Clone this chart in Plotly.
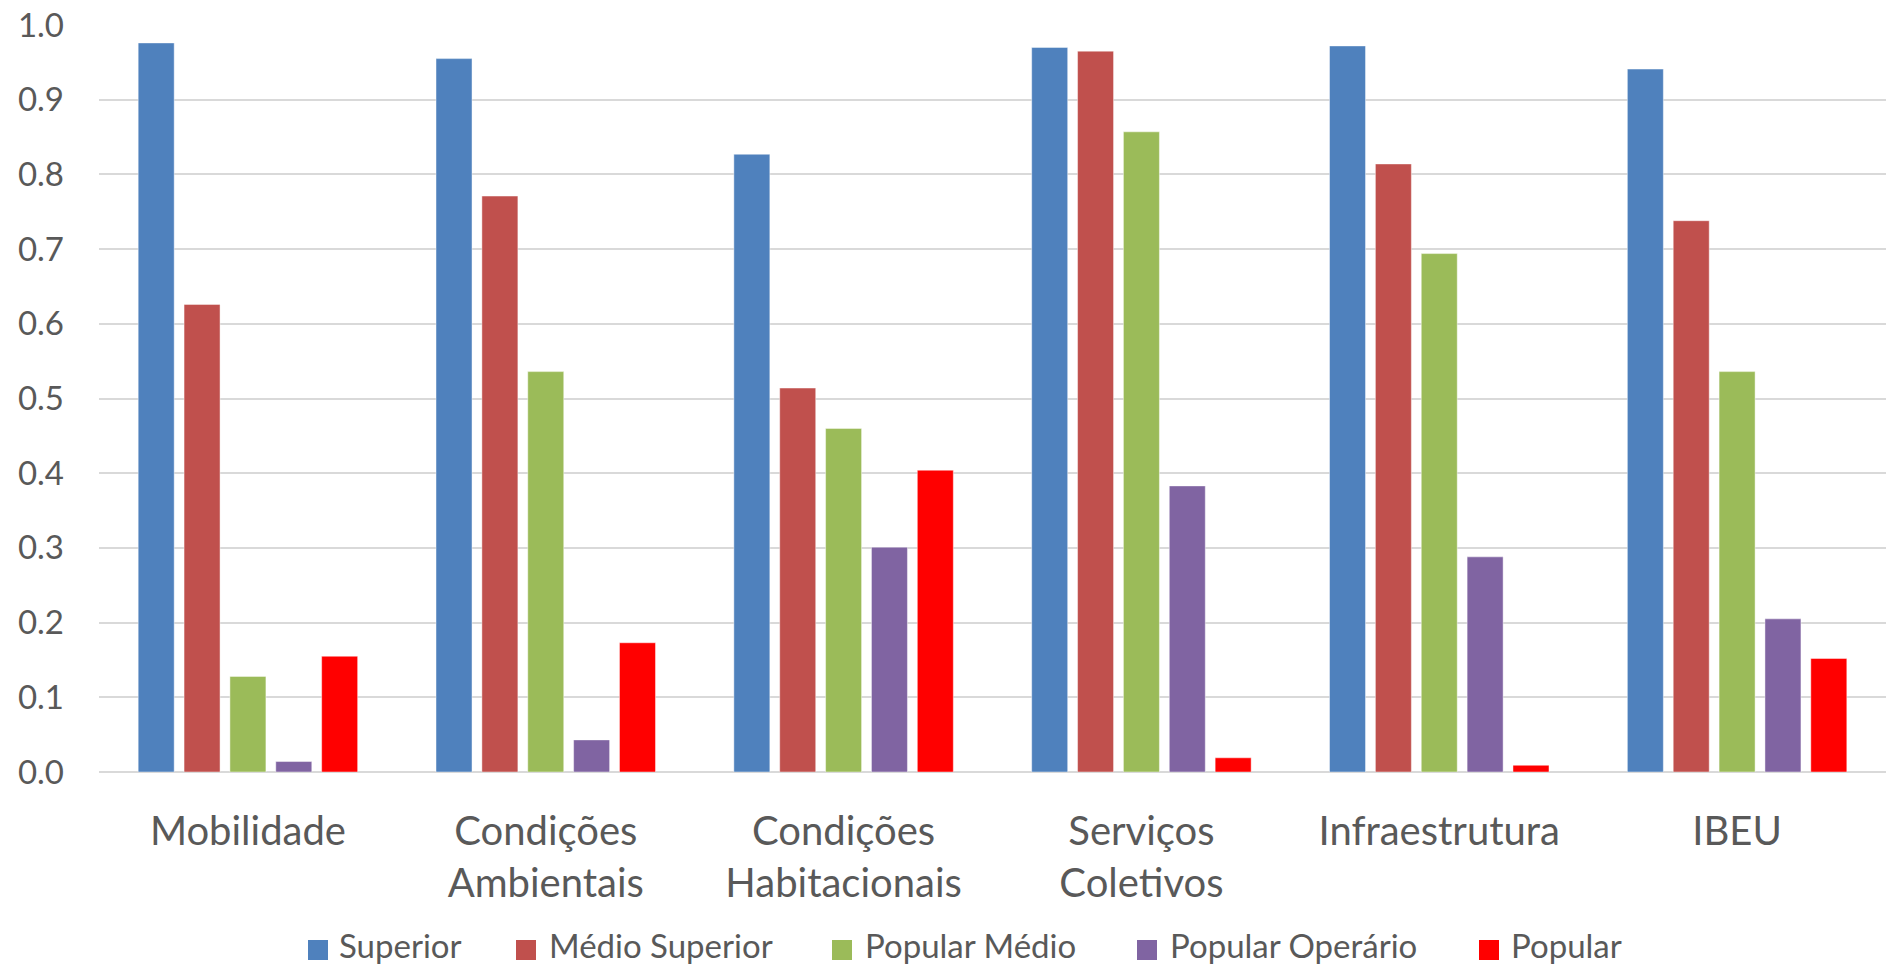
import plotly.graph_objects as go

# Index components (x axis)
categories = [
    "Mobilidade",
    "Condições<br>Ambientais",
    "Condições<br>Habitacionais",
    "Serviços<br>Coletivos",
    "Infraestrutura",
    "IBEU",
]

# One series per social type
series_names = ["Superior", "Médio Superior", "Popular Médio", "Popular Operário", "Popular"]
superior = [0.976, 0.955, 0.827, 0.970, 0.972, 0.941]
medio_superior = [0.626, 0.771, 0.514, 0.965, 0.814, 0.738]
popular_medio = [0.128, 0.536, 0.460, 0.857, 0.694, 0.536]
popular_operario = [0.014, 0.043, 0.301, 0.383, 0.288, 0.205]
popular = [0.155, 0.173, 0.404, 0.019, 0.009, 0.152]

series_values = [superior, medio_superior, popular_medio, popular_operario, popular]
series_colors = ["#4F81BD", "#C0504D", "#9BBB59", "#8064A2", "#FF0000"]

y_ticks = [0.0, 0.1, 0.2, 0.3, 0.4, 0.5, 0.6, 0.7, 0.8, 0.9, 1.0]

FONT = "Lato, Calibri, Carlito, sans-serif"
TEXT = "#595959"
GRID = "#D9D9D9"

W, H = 1886, 969
M_L, M_R, M_T, M_B = 99, 0, 25, 197
PLOT_W = W - M_L - M_R
PLOT_H = H - M_T - M_B

fig = go.Figure()
for name, vals, color in zip(series_names, series_values, series_colors):
    fig.add_trace(go.Bar(
        name=name,
        x=categories,
        y=vals,
        marker=dict(color=color, line=dict(color="rgba(255,255,255,0.45)", width=1)),
    ))

# Legend row below the axis: colour key + label, left edges in pixels
legend_key_left = [308, 516, 832, 1137, 1479]
legend_text_left = [337, 547, 863, 1168, 1509]
legend_key_center_y = 950
legend_text_center_y = 945
key_size = 20

def px_to_paper_x(px):
    return (px - M_L) / PLOT_W

def px_to_paper_y(py):
    return (H - M_B - py) / PLOT_H

shapes = []
annotations = []
for name, color, kx, tx in zip(series_names, series_colors, legend_key_left, legend_text_left):
    shapes.append(dict(
        type="rect", xref="paper", yref="paper",
        x0=px_to_paper_x(kx), x1=px_to_paper_x(kx + key_size),
        y0=px_to_paper_y(legend_key_center_y + key_size / 2),
        y1=px_to_paper_y(legend_key_center_y - key_size / 2),
        fillcolor=color, line=dict(width=0),
    ))
    annotations.append(dict(
        text=name, xref="paper", yref="paper",
        x=px_to_paper_x(tx), y=px_to_paper_y(legend_text_center_y),
        xanchor="left", yanchor="middle", showarrow=False,
        font=dict(family=FONT, size=33, color=TEXT),
    ))

fig.update_layout(
    width=W,
    height=H,
    margin=dict(l=M_L, r=M_R, t=M_T, b=M_B, autoexpand=False),
    paper_bgcolor="white",
    plot_bgcolor="white",
    barmode="group",
    bargap=0.23,
    bargroupgap=0.215,
    font=dict(family=FONT, color=TEXT),
    showlegend=False,
    shapes=shapes,
    annotations=annotations,
)

fig.update_xaxes(
    type="category",
    automargin=False,
    showgrid=False,
    showline=False,
    ticks="",
    tickfont=dict(family=FONT, size=40, color=TEXT),
    ticklabelstandoff=32,
)

fig.update_yaxes(
    range=[0, 1.0],
    automargin=False,
    tickvals=y_ticks,
    tickformat=".1f",
    showgrid=True,
    gridcolor=GRID,
    gridwidth=2,
    zeroline=True,
    zerolinecolor=GRID,
    zerolinewidth=2,
    showline=False,
    ticks="",
    tickfont=dict(family=FONT, size=33, color=TEXT),
    ticklabelstandoff=34,
)

fig.write_html("out.html")
